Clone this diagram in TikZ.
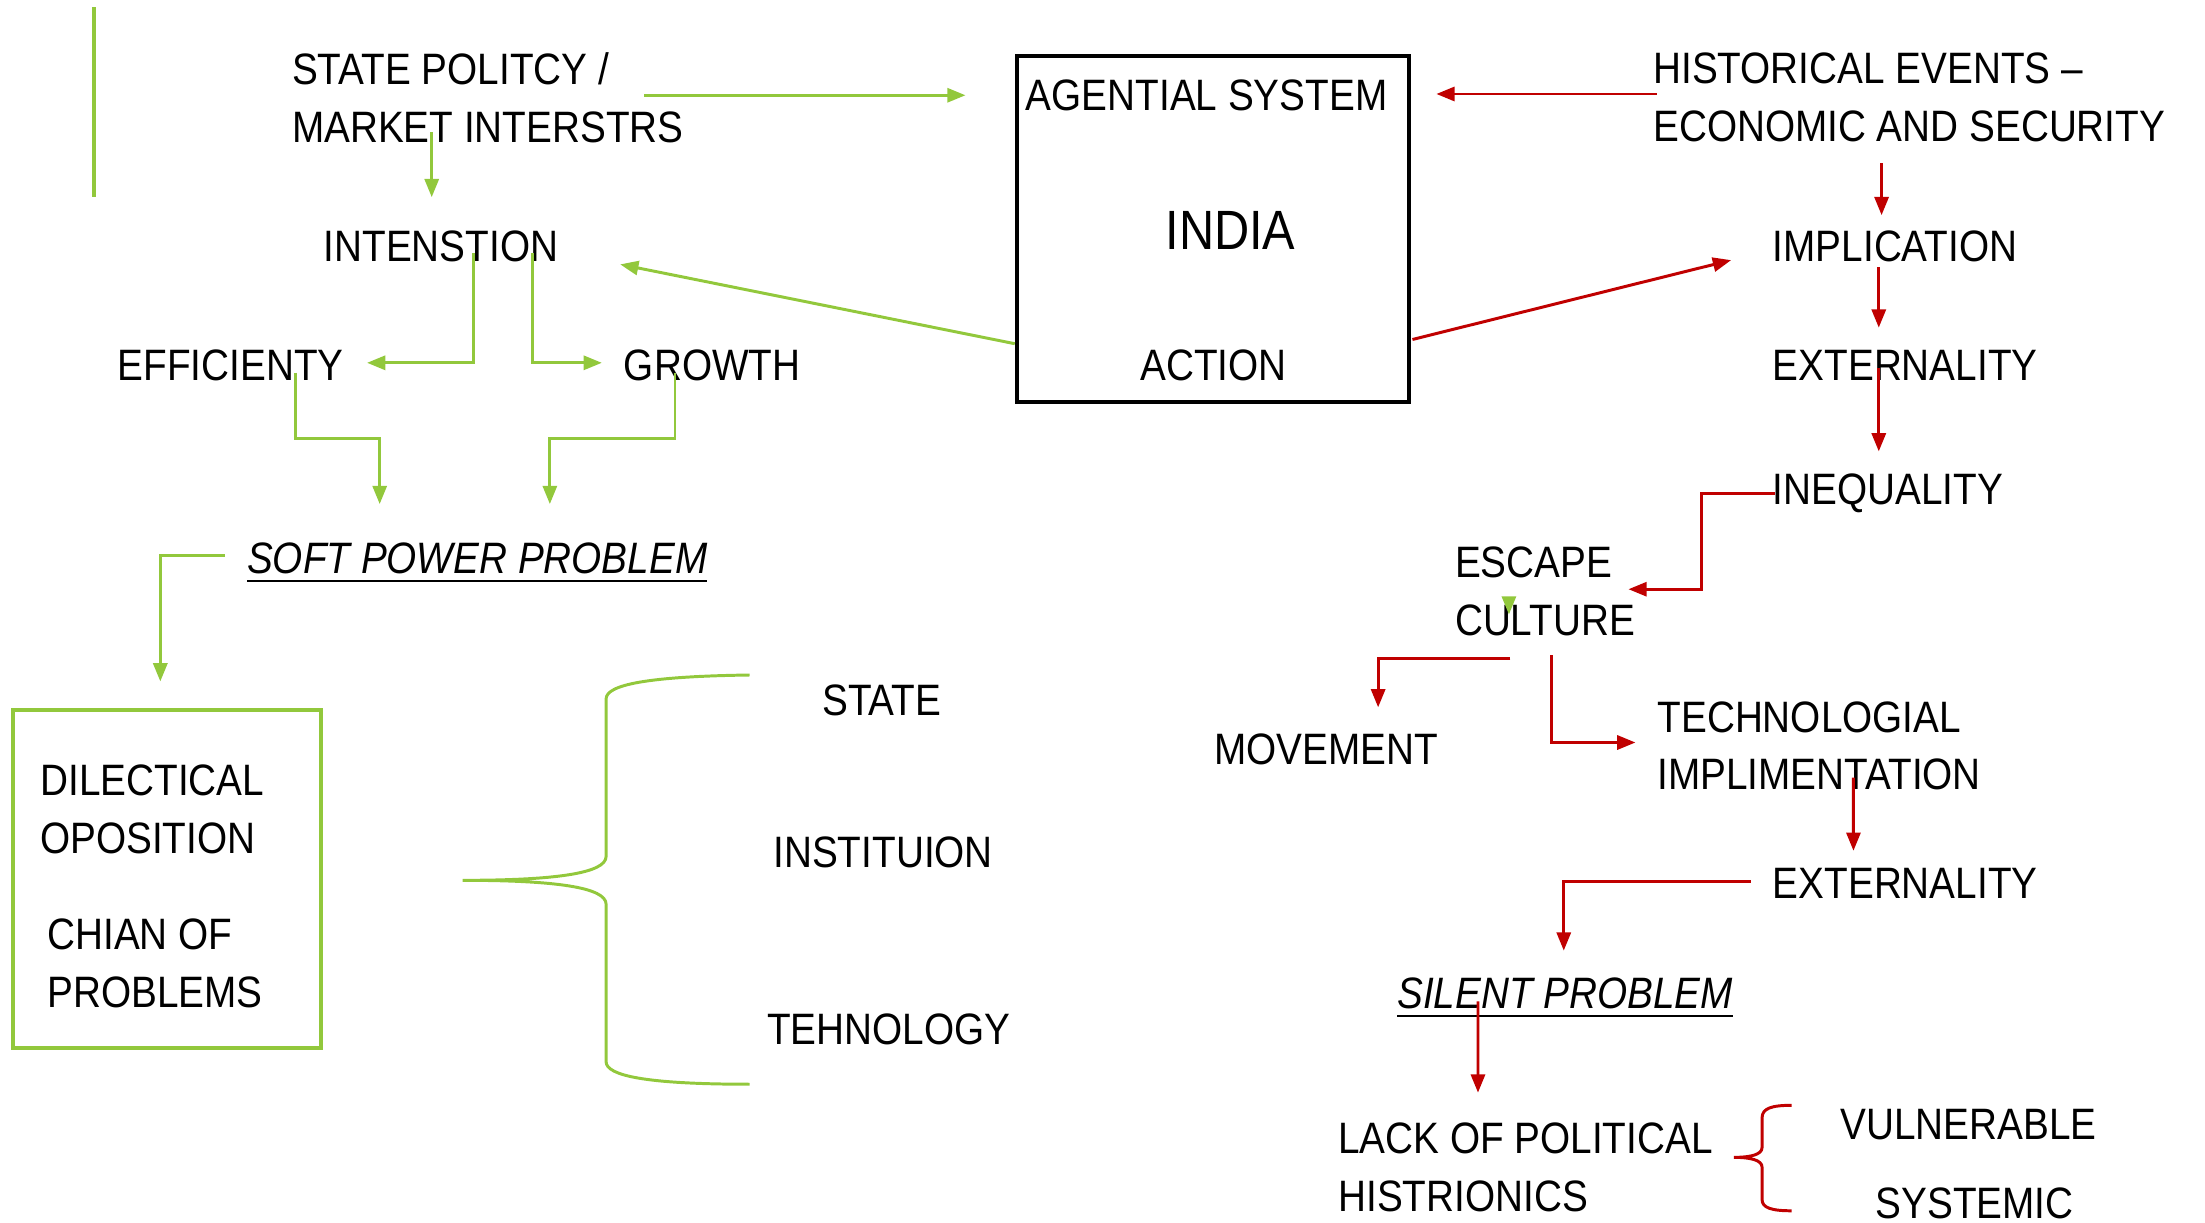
\documentclass[tikz,border=0pt]{standalone}
\usepackage{fontspec}
\setmainfont{Liberation Sans}[FakeStretch=0.88]
\usetikzlibrary{arrows.meta, calc}
\definecolor{leaf}{RGB}{146,200,60}
\definecolor{darkred}{RGB}{192,0,0}

\begin{document}
\begin{tikzpicture}[
    txt/.style={inner sep=0pt, font=\fontsize{8.9}{11.7}\selectfont, align=left},
    garrow/.style={leaf, line width=0.6pt, -{Triangle[length=1.3mm, width=1mm]}},
    rarrow/.style={darkred, line width=0.6pt, -{Triangle[length=1.3mm, width=1mm]}}]

    \useasboundingbox (0,0) rectangle (15.68,-8.69);

    % \draw[help lines, step=1] (0,0) grid (15.68,-8.69);

    \draw[leaf, line width=0.7pt] (0.67,-0.05) -- (0.67,-1.40);

    % left half
    \node[txt, anchor=north west] (state) at (2.07,-0.37) {STATE POLITCY /\\MARKET INTERSTRS};
    \node[txt] (intention) at (3.135,-1.75) {INTENSTION};
    \node[txt, anchor=west] (efficiency) at (0.83,-2.60) {EFFICIENTY};
    \node[txt, anchor=west] (growth) at (4.43,-2.60) {GROWTH};
    \node[txt, anchor=base west] (softpower) at (1.75,-4.08) {\itshape\underline{SOFT POWER PROBLEM}};

    \node[draw=leaf, line width=0.8pt, minimum width=2.19cm, minimum height=2.40cm, inner sep=0pt] (dialbox) at (1.185,-6.25) {};
    \node[txt, anchor=north west] (dial) at (0.28,-5.43) {DILECTICAL\\OPOSITION};
    \node[txt, anchor=north west] (chain) at (0.33,-6.53) {CHIAN OF\\PROBLEMS};

    \node[txt] (statepart) at (6.27,-4.98) {STATE};
    \node[txt] (institution) at (6.28,-6.06) {INSTITUION};
    \node[txt] (technology) at (6.32,-7.32) {TEHNOLOGY};

    % the agent
    \node[draw, line width=0.8pt, minimum width=2.79cm, minimum height=2.46cm, inner sep=0pt] (agent) at (8.625,-1.63) {};
    \node[txt] (agsys) at (8.58,-0.68) {AGENTIAL SYSTEM};
    \node[txt, font=\fontsize{11.2}{13}\selectfont] (india) at (8.75,-1.64) {INDIA};
    \node[txt] (action) at (8.63,-2.60) {ACTION};

    % right half
    \node[txt, anchor=north west] (histev) at (11.75,-0.37) {HISTORICAL EVENTS --\\ECONOMIC AND SECURITY};
    \node[txt, anchor=west] (impl) at (12.60,-1.75) {IMPLICATION};
    \node[txt, anchor=west] (ext1) at (12.60,-2.60) {EXTERNALITY};
    \node[txt, anchor=west] (ineq) at (12.60,-3.51) {INEQUALITY};
    \node[txt, anchor=north west] (escape) at (10.34,-3.88) {ESCAPE\\CULTURE};
    \node[txt, anchor=west] (movement) at (8.63,-5.33) {MOVEMENT};
    \node[txt, anchor=north west] (techimpl) at (11.78,-4.98) {TECHNOLOGIAL\\IMPLIMENTATION};
    \node[txt, anchor=west] (ext2) at (12.60,-6.28) {EXTERNALITY};
    \node[txt, anchor=base west] (silent) at (9.93,-7.17) {\itshape\underline{SILENT PROBLEM}};
    \node[txt, anchor=north west] (lack) at (9.51,-7.98) {LACK OF POLITICAL\\HISTRIONICS};
    \node[txt, anchor=west] (vuln) at (13.08,-8.00) {VULNERABLE};
    \node[txt, anchor=west] (systemic) at (13.33,-8.56) {SYSTEMIC};

    % green connectors
    \draw[garrow] ($(state.west)+(2.51,0.02)$) -- ($(state.west -| agent.west)+(-0.35,0.02)$);
    \draw[garrow] ($(intention.north)+(-0.065,0.69)$) -- ($(intention.north)+(-0.065,0.23)$);
    \draw[garrow] ($(intention.center)+(0.23,-0.05)$) |- ($(efficiency.west)+(1.78,0.02)$);
    \draw[garrow] ($(intention.center)+(0.65,-0.05)$) |- ($(growth.west)+(-0.15,0.02)$);
    \draw[garrow] ($(agent.south west)+(0,0.43)$) -- ($(intention.center)+(1.275,-0.13)$);
    \draw[garrow] ($(efficiency.west)+(1.27,-0.05)$) -- ++(0,-0.47) -| ($(softpower.north west)+(0.95,0.27)$);
    \draw[garrow] ($(growth.west)+(0.37,-0.05)$) -- ++(0,-0.47) -| ($(softpower.north west)+(2.16,0.27)$);
    \draw[garrow] ($(softpower.base west)+(-0.15,0.13)$) -| ($(dialbox.north)+(-0.045,0.19)$);
    \draw[garrow] ($(escape.north west)+(0.39,-0.44)$) -- ++(0,-0.05);

    \draw[leaf, line width=0.6pt] (5.33,-4.80) .. controls (4.60,-4.81) and (4.31,-4.87) .. (4.31,-4.97)
        -- (4.31,-6.09) .. controls (4.31,-6.21) and (3.95,-6.26) .. (3.29,-6.26)
        .. controls (3.95,-6.26) and (4.31,-6.31) .. (4.31,-6.43)
        -- (4.31,-7.55) .. controls (4.31,-7.65) and (4.60,-7.71) .. (5.33,-7.71);

    % red connectors
    \draw[rarrow] ($(histev.west)+(0.03,0.025)$) -- ($(histev.west -| agent.east)+(0.18,0.025)$);
    \draw[rarrow] ($(impl.west)+(0.78,0.59)$) -- ($(impl.west)+(0.78,0.22)$);
    \draw[rarrow] ($(agent.south east)+(0.01,0.46)$) -- ($(impl.west)+(-0.29,-0.10)$);
    \draw[rarrow] ($(impl.west)+(0.76,-0.15)$) -- ($(ext1.west)+(0.76,0.27)$);
    \draw[rarrow] ($(ext1.west)+(0.76,-0.02)$) -- ($(ineq.west)+(0.76,0.30)$);
    \draw[rarrow] ($(ineq.west)+(0.02,0)$) -- ++(-0.52,0) |- ($(escape.north west)+(1.24,-0.31)$);
    \draw[rarrow] ($(escape.north west)+(0.40,-0.80)$) -| ($(movement.west)+(1.17,0.30)$);
    \draw[rarrow] ($(escape.north west)+(0.69,-0.78)$) |- ($(techimpl.north west)+(-0.15,-0.30)$);
    \draw[rarrow] ($(techimpl.north west)+(1.40,-0.55)$) -- ($(ext2.west)+(0.58,0.23)$);
    \draw[rarrow] ($(ext2.west)+(-0.15,0.01)$) -| ($(silent.base west)+(1.19,0.41)$);
    \draw[rarrow] ($(silent.base west)+(0.58,0.05)$) -- ($(lack.north west)+(1.00,0.21)$);

    \draw[darkred, line width=0.6pt] (12.74,-7.86) .. controls (12.60,-7.86) and (12.53,-7.88) .. (12.53,-7.95)
        -- (12.53,-8.16) .. controls (12.53,-8.21) and (12.45,-8.23) .. (12.33,-8.23)
        .. controls (12.45,-8.23) and (12.53,-8.25) .. (12.53,-8.30)
        -- (12.53,-8.53) .. controls (12.53,-8.59) and (12.60,-8.61) .. (12.74,-8.61);

\end{tikzpicture}
\end{document}
